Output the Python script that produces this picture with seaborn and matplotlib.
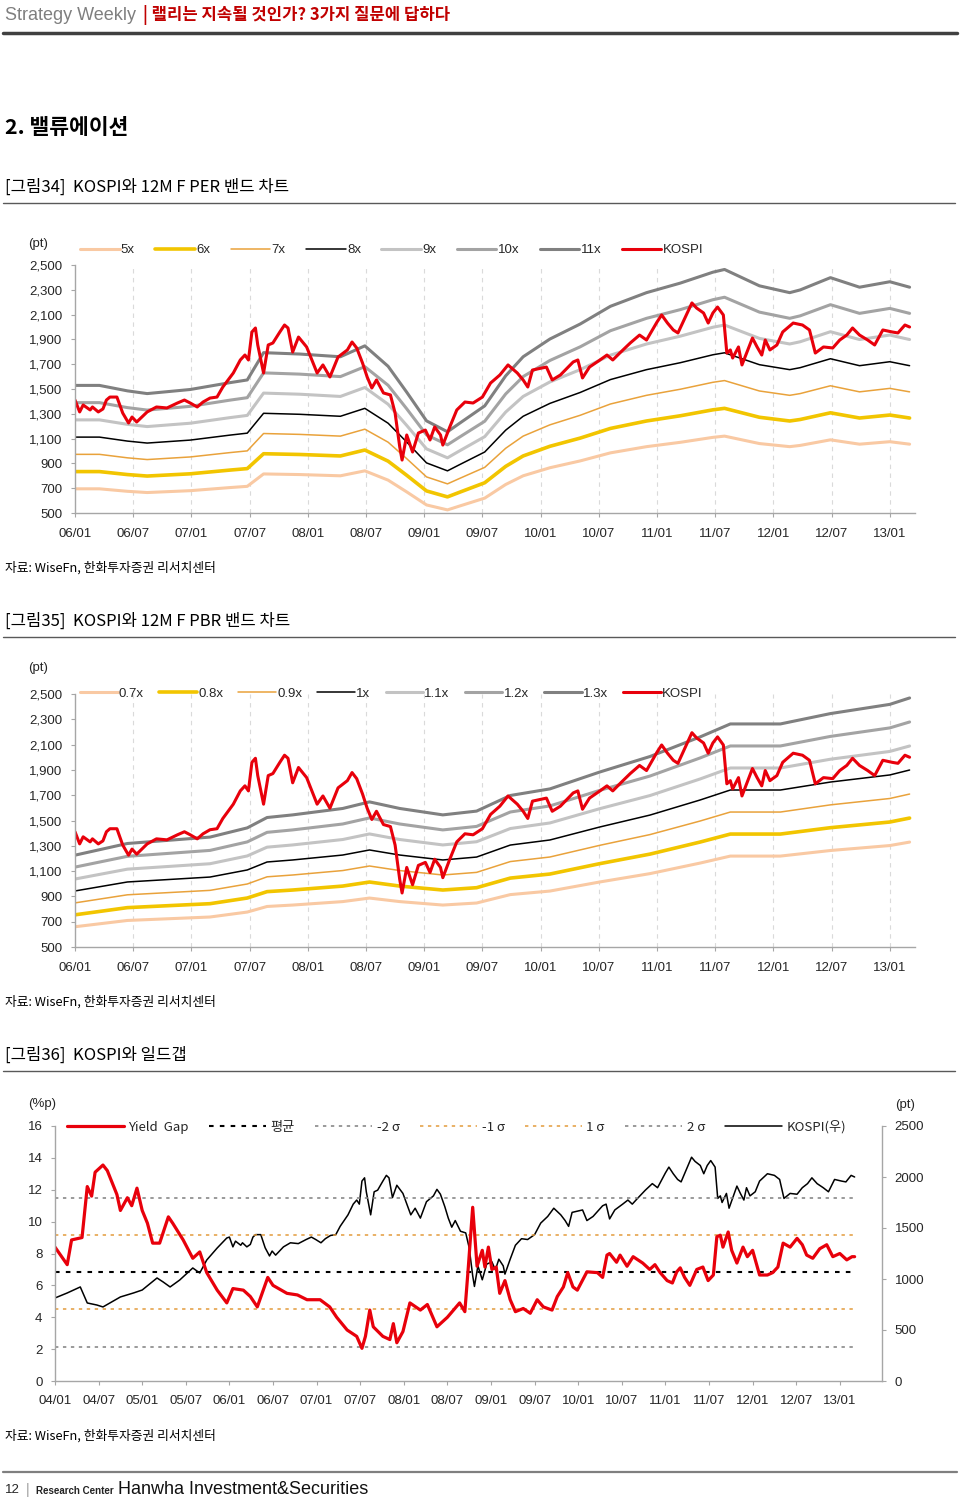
import matplotlib
matplotlib.use("Agg")
import matplotlib.pyplot as plt
from matplotlib.lines import Line2D
import numpy as np
import pandas as pd
import seaborn as sns

# ---------------- data ----------------
# KOSPI (decimal year, index points)
kospi_t = [2004.00, 2004.14, 2004.29, 2004.37, 2004.48, 2004.55, 2004.75, 2004.90, 2005.00, 2005.17,
           2005.24, 2005.32, 2005.43, 2005.58, 2005.66, 2005.74, 2005.86, 2005.97,
           2006.00, 2006.04, 2006.07, 2006.13, 2006.15, 2006.20, 2006.24, 2006.27, 2006.30, 2006.36,
           2006.41, 2006.46, 2006.49, 2006.53, 2006.62, 2006.70, 2006.79, 2006.88, 2006.94, 2006.99,
           2007.05, 2007.10, 2007.16, 2007.22, 2007.27, 2007.36, 2007.42, 2007.46, 2007.49, 2007.52,
           2007.55, 2007.57, 2007.62, 2007.66, 2007.70, 2007.76, 2007.80, 2007.83, 2007.87, 2007.92,
           2007.99, 2008.08, 2008.13, 2008.19, 2008.26, 2008.34, 2008.38, 2008.42, 2008.47, 2008.51,
           2008.55, 2008.59, 2008.65, 2008.71, 2008.75, 2008.79, 2008.81, 2008.85, 2008.90, 2008.95,
           2009.01, 2009.05, 2009.09, 2009.14, 2009.16, 2009.22, 2009.28, 2009.35, 2009.42, 2009.50,
           2009.57, 2009.65, 2009.72, 2009.80, 2009.85, 2009.89, 2009.93, 2010.05, 2010.10, 2010.17,
           2010.28, 2010.32, 2010.36, 2010.42, 2010.51, 2010.57, 2010.62, 2010.68, 2010.77, 2010.85,
           2010.91, 2011.00, 2011.04, 2011.09, 2011.14, 2011.18, 2011.24, 2011.30, 2011.34, 2011.40,
           2011.44, 2011.48, 2011.52, 2011.57, 2011.60, 2011.63, 2011.65, 2011.70, 2011.73, 2011.77,
           2011.82, 2011.86, 2011.90, 2011.93, 2011.97, 2012.03, 2012.08, 2012.17, 2012.25, 2012.31,
           2012.36, 2012.43, 2012.51, 2012.57, 2012.63, 2012.68, 2012.74, 2012.81, 2012.87, 2012.94,
           2013.02, 2013.07, 2013.13, 2013.17]
kospi_v = [814, 863, 922, 765, 745, 726, 824, 863, 892, 1010,
           971, 922, 990, 1108, 1059, 1186, 1304, 1402,
           1411, 1315, 1371, 1331, 1355, 1315, 1339, 1411, 1435, 1435,
           1306, 1226, 1274, 1234, 1315, 1355, 1347, 1387, 1411, 1387,
           1355, 1395, 1427, 1435, 1516, 1629, 1734, 1774, 1734, 1960,
           1992, 1855, 1629, 1855, 1871, 1960, 2016, 1992, 1798, 1919,
           1839, 1629, 1694, 1597, 1758, 1815, 1879, 1831, 1710, 1597,
           1508, 1573, 1468, 1452, 1306, 1032, 927, 1129, 992, 1145,
           1169, 1089, 1194, 1129, 1048, 1194, 1331, 1395, 1387, 1435,
           1548, 1613, 1694, 1629, 1573, 1516, 1653, 1677, 1573, 1613,
           1718, 1734, 1589, 1677, 1734, 1774, 1734, 1790, 1871, 1935,
           1895, 2040, 2097, 2032, 1976, 1952, 2073, 2194, 2153, 2113,
           2032, 2113, 2161, 2097, 1790, 1815, 1750, 1839, 1694, 1790,
           1911, 1839, 1774, 1895, 1815, 1855, 1960, 2032, 2016, 1976,
           1790, 1839, 1831, 1895, 1935, 1992, 1935, 1895, 1855, 1976,
           1960, 1952, 2016, 2000]

eps_t = [2006.00, 2006.21, 2006.45, 2006.62, 2006.99, 2007.33, 2007.48, 2007.62, 2007.93, 2008.28,
         2008.49, 2008.69, 2008.85, 2009.02, 2009.20, 2009.30, 2009.52, 2009.70, 2009.85, 2010.08,
         2010.34, 2010.60, 2010.91, 2011.20, 2011.48, 2011.58, 2011.88, 2012.14, 2012.23, 2012.49,
         2012.74, 2013.00, 2013.17]
eps_v = [139, 139, 135, 133, 136, 141, 143, 163, 162, 160,
         168, 153, 134, 113, 105, 111, 124, 146, 160, 173,
         184, 197, 207, 214, 222, 224, 212, 207, 209, 218,
         211, 215, 211]

bps_t = [2006.00, 2006.45, 2007.16, 2007.48, 2007.65, 2007.87, 2008.30, 2008.53, 2008.79, 2009.16,
         2009.45, 2009.74, 2010.08, 2010.51, 2010.94, 2011.37, 2011.63, 2012.06, 2012.49, 2013.00,
         2013.17]
bps_v = [943, 1014, 1053, 1109, 1172, 1188, 1227, 1267, 1227, 1188,
         1211, 1306, 1346, 1449, 1543, 1662, 1741, 1741, 1804, 1860,
         1899]

per_mult = [5, 6, 7, 8, 9, 10, 11]
per_labels = ["5x", "6x", "7x", "8x", "9x", "10x", "11x"]
pbr_mult = [0.7, 0.8, 0.9, 1.0, 1.1, 1.2, 1.3]
pbr_labels = ["0.7x", "0.8x", "0.9x", "1x", "1.1x", "1.2x", "1.3x"]

# Yield gap (%p)
yg_t = [2004.00, 2004.14, 2004.19, 2004.31, 2004.37, 2004.42, 2004.46, 2004.55, 2004.60, 2004.71,
        2004.75, 2004.83, 2004.88, 2004.94, 2005.00, 2005.06, 2005.12, 2005.20, 2005.30, 2005.35,
        2005.47, 2005.58, 2005.66, 2005.74, 2005.86, 2005.97, 2006.04, 2006.16, 2006.24, 2006.32,
        2006.44, 2006.50, 2006.66, 2006.78, 2006.89, 2007.04, 2007.15, 2007.23, 2007.35, 2007.46,
        2007.52, 2007.56, 2007.61, 2007.65, 2007.76, 2007.84, 2007.88, 2007.92, 2007.99, 2008.07,
        2008.19, 2008.27, 2008.38, 2008.50, 2008.64, 2008.70, 2008.74, 2008.79, 2008.84, 2008.90,
        2008.93, 2008.97, 2009.01, 2009.06, 2009.10, 2009.16, 2009.22, 2009.28, 2009.37, 2009.45,
        2009.53, 2009.60, 2009.70, 2009.76, 2009.83, 2009.88, 2009.94, 2009.99, 2010.10, 2010.22,
        2010.28, 2010.33, 2010.36, 2010.44, 2010.48, 2010.56, 2010.63, 2010.74, 2010.82, 2010.88,
        2010.94, 2011.02, 2011.08, 2011.13, 2011.17, 2011.22, 2011.28, 2011.36, 2011.43, 2011.49,
        2011.55, 2011.59, 2011.63, 2011.66, 2011.72, 2011.76, 2011.82, 2011.89, 2011.94, 2012.00,
        2012.08, 2012.17, 2012.23, 2012.29, 2012.35, 2012.43, 2012.51, 2012.57, 2012.62, 2012.69,
        2012.77, 2012.85, 2012.92, 2013.00, 2013.08, 2013.14, 2013.17]
yg_v = [8.4, 7.3, 8.85, 9.0, 12.2, 11.6, 13.1, 13.55, 13.2, 11.7,
        10.7, 11.5, 11.0, 12.1, 10.7, 9.9, 8.65, 8.65, 10.3, 9.9,
        8.85, 7.7, 8.1, 6.8, 5.7, 4.9, 5.8, 5.7, 5.3, 4.65,
        6.5, 6.0, 5.5, 5.4, 5.1, 5.1, 4.65, 4.0, 3.2, 2.8,
        2.05, 2.8, 4.45, 3.4, 2.8, 2.6, 3.6, 2.4, 3.1, 4.9,
        4.45, 4.8, 3.4, 4.0, 4.9, 4.35, 7.15, 10.9, 7.2, 8.2,
        7.15, 8.4, 7.0, 7.15, 5.5, 6.3, 5.1, 4.35, 4.55, 4.25,
        5.1, 4.65, 4.45, 5.3, 5.9, 6.8, 5.9, 5.7, 6.85, 6.8,
        6.5, 7.9, 8.0, 7.45, 7.9, 7.2, 7.8, 7.4, 7.0, 7.3,
        6.8, 6.3, 6.15, 6.85, 7.1, 6.5, 6.0, 7.0, 7.15, 6.3,
        6.65, 9.05, 9.15, 8.4, 9.35, 8.2, 7.4, 8.4, 7.8, 8.2,
        6.65, 6.65, 6.8, 7.15, 8.65, 8.4, 8.95, 8.55, 7.9, 7.7,
        8.3, 8.55, 7.8, 8.0, 7.6, 7.8, 7.8]
yg_mean = 6.82
yg_sd = 2.33
sigma_mult = [-2, -1, 1, 2]
sigma_labels = ["-2 σ", "-1 σ", "1 σ", "2 σ"]

xt_band = ["06/01", "06/07", "07/01", "07/07", "08/01", "08/07", "09/01", "09/07",
           "10/01", "10/07", "11/01", "11/07", "12/01", "12/07", "13/01"]
xt_yg = ["04/01", "04/07", "05/01", "05/07", "06/01", "06/07", "07/01", "07/07", "08/01",
         "08/07", "09/01", "09/07", "10/01", "10/07", "11/01", "11/07", "12/01", "12/07", "13/01"]
band_yticks = [500, 700, 900, 1100, 1300, 1500, 1700, 1900, 2100, 2300, 2500]
yg_yticks = [0, 2, 4, 6, 8, 10, 12, 14, 16]
kospi_rticks = [0, 500, 1000, 1500, 2000, 2500]

# ---------------- style ----------------
sns.set_style("white")
plt.rcParams["font.family"] = ["Liberation Sans", "Noto Sans CJK KR", "DejaVu Sans"]
KR = ["Noto Sans CJK KR", "Liberation Sans", "DejaVu Sans"]

W, H = 960, 1501
fig = plt.figure(figsize=(W / 100, H / 100), dpi=100)
fig.patch.set_facecolor("white")


def fx(x):
    return x / W


def fy(y):
    return 1 - y / H


def add_ax(l, t, r, b):
    return fig.add_axes([fx(l), fy(b), (r - l) / W, (b - t) / H])


def hline(y, x0, x1, color, lw):
    fig.add_artist(Line2D([fx(x0), fx(x1)], [fy(y), fy(y)], color=color, lw=lw,
                          transform=fig.transFigure))


SPINE = "#A6A6A6"
TICKFS = 9.5
band_styles = [("#F9C9A3", 2.2), ("#F2C500", 2.6), ("#E9A23B", 1.1), ("#000000", 1.1),
               ("#C3C3C3", 2.2), ("#A3A3A3", 2.2), ("#808080", 2.2)]
RED = "#E8000B"

# ---------------- header ----------------
fig.text(fx(5), fy(15), "Strategy Weekly", fontsize=13, color="#7F7F7F", va="center", ha="left")
fig.text(fx(143), fy(15), "| 랠리는 지속될 것인가? 3가지 질문에 답하다", fontsize=12,
         color="#C00000", fontweight="bold", va="center", ha="left", family=KR)
hline(33, 3, 957, "#404040", 2.5)
fig.text(fx(5), fy(127), "2. 밸류에이션", fontsize=15.5, fontweight="bold", color="black",
         va="center", ha="left", family=KR)


def fig_title(y, s):
    fig.text(fx(5), fy(y), s, fontsize=12, color="black", va="center", ha="left", family=KR)
    hline(y + 16, 3, 955, "#595959", 1.0)


def source(y):
    fig.text(fx(5), fy(y), "자료: WiseFn, 한화투자증권 리서치센터", fontsize=9.2, color="black",
             va="center", ha="left", family=KR)


# ---------------- band charts ----------------
def band_chart(top, bottom, base_t, base_v, mults, labels, legend_y, unit_y, hlen, colsp):
    ax = add_ax(75, top, 915, bottom)
    base = np.array(base_v, dtype=float)
    handles = []
    for m, lab, (c, lw) in zip(mults, labels, band_styles):
        df = pd.DataFrame({"t": base_t, "v": base * m})
        sns.lineplot(data=df, x="t", y="v", ax=ax, color=c, linewidth=lw, legend=False)
        handles.append(Line2D([], [], color=c, lw=lw, label=lab))
    kt = np.array(kospi_t)
    kv = np.array(kospi_v, dtype=float)
    sel = kt >= 2006.0
    dfk = pd.DataFrame({"t": kt[sel], "v": kv[sel]})
    sns.lineplot(data=dfk, x="t", y="v", ax=ax, color=RED, linewidth=2.2, legend=False)
    handles.append(Line2D([], [], color=RED, lw=2.2, label="KOSPI"))

    ax.set_xlim(2006.0, 2006.0 + (915 - 75) / 116.4)
    ax.set_ylim(500, 2500)
    xticks = [2006.0 + 0.5 * i for i in range(len(xt_band))]
    ax.set_xticks(xticks)
    ax.set_xticklabels(xt_band)
    ax.set_yticks(band_yticks)
    ax.set_yticklabels([f"{v:,}" for v in band_yticks])
    ax.set_xlabel("")
    ax.set_ylabel("")
    for s in ["top", "right"]:
        ax.spines[s].set_visible(False)
    for s in ["left", "bottom"]:
        ax.spines[s].set_color(SPINE)
        ax.spines[s].set_linewidth(1.0)
    ax.tick_params(axis="y", which="major", direction="out", length=3, width=0.8, color=SPINE,
                   labelsize=TICKFS, pad=6, left=True)
    ax.tick_params(axis="x", which="major", direction="out", length=3, width=0.8, color=SPINE,
                   labelsize=TICKFS, pad=8, bottom=True)
    ax.grid(False)
    for xv in xticks[1:]:
        ax.axvline(xv, color="#DADADA", lw=0.8, ls=(0, (4, 4)), zorder=0)
    ax.legend(handles=handles, loc="center left",
              bbox_to_anchor=(fx(80), fy(legend_y)), bbox_transform=fig.transFigure,
              ncol=8, frameon=False, fontsize=TICKFS, handlelength=hlen,
              handletextpad=0.1, columnspacing=colsp, borderpad=0, borderaxespad=0)
    fig.text(fx(28), fy(unit_y), "(pt)", fontsize=TICKFS, va="center", ha="left")
    return ax


fig_title(187, "[그림34]  KOSPI와 12M F PER 밴드 차트")
band_chart(265, 513, eps_t, eps_v, per_mult, per_labels, 250, 244, 3.0, 1.55)
source(568)

fig_title(621, "[그림35]  KOSPI와 12M F PBR 밴드 차트")
band_chart(694, 947, bps_t, bps_v, pbr_mult, pbr_labels, 694, 668, 2.85, 1.15)
source(1002)

# ---------------- yield gap chart ----------------
fig_title(1055, "[그림36]  KOSPI와 일드갭")
ax3 = add_ax(55, 1126, 882, 1381)
ax3r = ax3.twinx()
ax3.set_zorder(ax3r.get_zorder() + 1)
ax3.patch.set_visible(False)

dfk3 = pd.DataFrame({"t": kospi_t, "v": kospi_v})
sns.lineplot(data=dfk3, x="t", y="v", ax=ax3r, color="black", linewidth=1.1, legend=False)

t0, t1 = yg_t[0], yg_t[-1]
sig_colors = {-2: "#7F7F7F", -1: "#E39B3C", 1: "#E39B3C", 2: "#7F7F7F"}
DOT = (0, (2.2, 3.0))
dfm = pd.DataFrame({"t": [t0, t1], "v": [yg_mean, yg_mean]})
sns.lineplot(data=dfm, x="t", y="v", ax=ax3, color="black", linewidth=1.5, linestyle=DOT,
             legend=False)
for k in sigma_mult:
    dfs = pd.DataFrame({"t": [t0, t1], "v": [yg_mean + k * yg_sd] * 2})
    sns.lineplot(data=dfs, x="t", y="v", ax=ax3, color=sig_colors[k], linewidth=1.1,
                 linestyle=DOT, legend=False)
dfy = pd.DataFrame({"t": yg_t, "v": yg_v})
sns.lineplot(data=dfy, x="t", y="v", ax=ax3, color=RED, linewidth=2.3, legend=False)

xlim3 = (2004.0, 2004.0 + (882 - 55) / 87.2)
ax3.set_xlim(*xlim3)
ax3r.set_xlim(*xlim3)
ax3.set_ylim(0, 16)
ax3r.set_ylim(0, 2500)
ax3.set_xticks([2004.0 + 0.5 * i for i in range(len(xt_yg))])
ax3.set_xticklabels(xt_yg)
ax3.set_yticks(yg_yticks)
ax3.set_yticklabels([str(v) for v in yg_yticks])
ax3r.set_yticks(kospi_rticks)
ax3r.set_yticklabels([str(v) for v in kospi_rticks])
for a in (ax3, ax3r):
    a.set_xlabel("")
    a.set_ylabel("")
    a.grid(False)
    a.spines["top"].set_visible(False)
    for s in ["left", "bottom", "right"]:
        a.spines[s].set_color(SPINE)
        a.spines[s].set_linewidth(1.0)
ax3.spines["right"].set_visible(False)
ax3r.spines["left"].set_visible(False)
ax3r.spines["bottom"].set_visible(False)
ax3.tick_params(axis="y", direction="out", length=3, width=0.8, color=SPINE,
                labelsize=TICKFS, pad=6, left=True)
ax3.tick_params(axis="x", direction="out", length=3, width=0.8, color=SPINE,
                labelsize=TICKFS, pad=7, bottom=True)
ax3r.tick_params(axis="y", direction="out", length=3, width=0.8, color=SPINE,
                 labelsize=TICKFS, pad=6, right=True)
ax3r.tick_params(axis="x", bottom=False, labelbottom=False)

h3 = [Line2D([], [], color=RED, lw=2.3, label="Yield  Gap"),
      Line2D([], [], color="black", lw=1.5, ls=DOT, label="평균")]
for k, lab in zip(sigma_mult, sigma_labels):
    h3.append(Line2D([], [], color=sig_colors[k], lw=1.1, ls=DOT, label=lab))
h3.append(Line2D([], [], color="black", lw=1.1, label="KOSPI(우)"))
ax3.legend(handles=h3, loc="center left", bbox_to_anchor=(fx(67), fy(1127)),
           bbox_transform=fig.transFigure, ncol=7, frameon=False,
           handlelength=4.3, handletextpad=0.35, columnspacing=1.55, borderpad=0,
           borderaxespad=0, prop={"family": KR, "size": TICKFS})
fig.text(fx(28), fy(1104), "(%p)", fontsize=TICKFS, va="center", ha="left")
fig.text(fx(895), fy(1105), "(pt)", fontsize=TICKFS, va="center", ha="left")
source(1436)

# ---------------- footer ----------------
hline(1472, 3, 957, "#7F7F7F", 1.6)
fig.text(fx(5), fy(1490), "12", fontsize=9.5, va="center", ha="left")
fig.text(fx(26), fy(1490), "|", fontsize=10, va="center", ha="left", color="#9A9A9A")
fig.text(fx(36), fy(1491), "Research Center", fontsize=7, fontweight="bold", va="center",
         ha="left", color="#222222")
fig.text(fx(118), fy(1490), "Hanwha Investment&Securities", fontsize=13, va="center",
         ha="left", color="#111111")

fig.savefig("out.png", dpi=100, facecolor="white")
